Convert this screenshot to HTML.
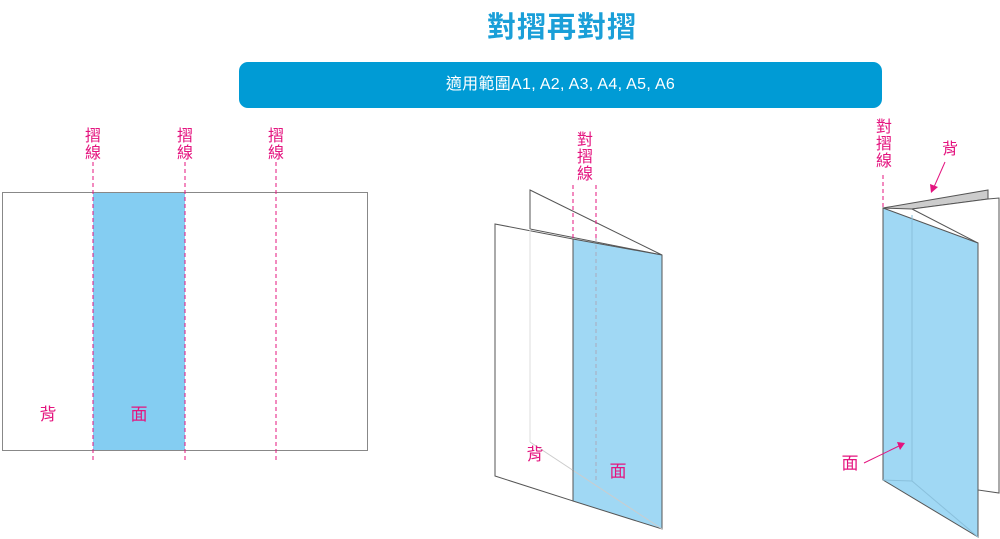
<!DOCTYPE html>
<html><head><meta charset="utf-8"><style>
body{margin:0;width:1000px;height:539px;background:#fff;overflow:hidden;position:relative;font-family:"Liberation Sans","Noto Sans CJK TC",sans-serif}
.t{position:absolute;left:0;top:4px;width:1124px;text-align:center;font-size:29px;font-weight:bold;color:#1a9fd8;letter-spacing:1px}
.bar{position:absolute;left:239px;top:62px;width:643px;height:46px;background:#009bd5;border-radius:9px;color:#fff;font-size:16px;text-align:center;line-height:46px;letter-spacing:0.3px}
</style></head><body>
<div class="t">對摺再對摺</div>
<div class="bar">適用範圍A1, A2, A3, A4, A5, A6</div>
<svg width="1000" height="539" style="position:absolute;left:0;top:0" font-family="Liberation Sans, Noto Sans CJK TC, sans-serif">
<!-- left -->
<rect x="2.5" y="192.5" width="365" height="258" fill="#fff" stroke="#888"/>
<rect x="93" y="193" width="92" height="257" fill="#84cdf2"/>
<g stroke="#e4147f" stroke-dasharray="4,3" stroke-width="1">
<line x1="93" y1="162" x2="93" y2="463"/><line x1="185" y1="162" x2="185" y2="463"/><line x1="276" y1="162" x2="276" y2="463"/>
</g>
<!-- middle -->
<polygon points="530,190 662,255 530,229" fill="#fff" stroke="#555"/>
<polygon points="495,224 573,239 573,501 495,476" fill="#fff" stroke="#555"/>
<polygon points="573,239 662,255 662,529 573,501" fill="#a0d8f4" stroke="#555"/>
<line x1="530" y1="229" x2="530" y2="442" stroke="#ddd"/>
<line x1="530" y1="442" x2="662" y2="529" stroke="#ccc"/>
<line x1="573" y1="185" x2="573" y2="239" stroke="#e4147f" stroke-dasharray="4,3"/>
<line x1="596" y1="185" x2="596" y2="238" stroke="#e4147f" stroke-dasharray="4,3"/>
<line x1="573" y1="239" x2="573" y2="501" stroke="#555" stroke-dasharray="4,3"/>
<line x1="596" y1="238" x2="596" y2="482" stroke="#aab" stroke-dasharray="4,3"/>
<!-- right -->
<polygon points="883,208 988,190 988,199 912,209" fill="#ccc" stroke="#555"/>
<polygon points="912,209 988,199 999,198 999,493 978,490 978,243" fill="#fff" stroke="#555"/>
<polygon points="883,208 978,243 978,537 883,480" fill="#a0d8f4" stroke="#555"/>
<line x1="912" y1="215" x2="912" y2="481" stroke="#8ac0dc"/>
<line x1="883" y1="480" x2="912" y2="481" stroke="#8ac0dc"/>
<line x1="912" y1="481" x2="978" y2="537" stroke="#8ac0dc"/>
<line x1="883" y1="175" x2="883" y2="207" stroke="#e4147f" stroke-dasharray="4,3"/>
<g stroke="#e4147f" fill="#e4147f">
<line x1="945" y1="162" x2="934" y2="187"/><polygon points="931,193 930,184 938,187" stroke="none"/>
<line x1="864" y1="463" x2="899" y2="446"/><polygon points="905,443 897,442 900,450" stroke="none"/>
</g>
<g fill="#e4147f" font-size="16" text-anchor="middle">
<text x="93" y="141">摺</text><text x="93" y="158">線</text>
<text x="185" y="141">摺</text><text x="185" y="158">線</text>
<text x="276" y="141">摺</text><text x="276" y="158">線</text>
<text x="585" y="145">對</text><text x="585" y="162">摺</text><text x="585" y="179">線</text>
<text x="884" y="132">對</text><text x="884" y="149">摺</text><text x="884" y="166">線</text>
<text x="950" y="154">背</text>
<text x="48" y="420" font-size="17">背</text><text x="139" y="420" font-size="17">面</text>
<text x="535" y="460" font-size="17">背</text><text x="618" y="477" font-size="17">面</text>
<text x="850" y="469" font-size="17">面</text>
</g>
</svg>
</body></html>
